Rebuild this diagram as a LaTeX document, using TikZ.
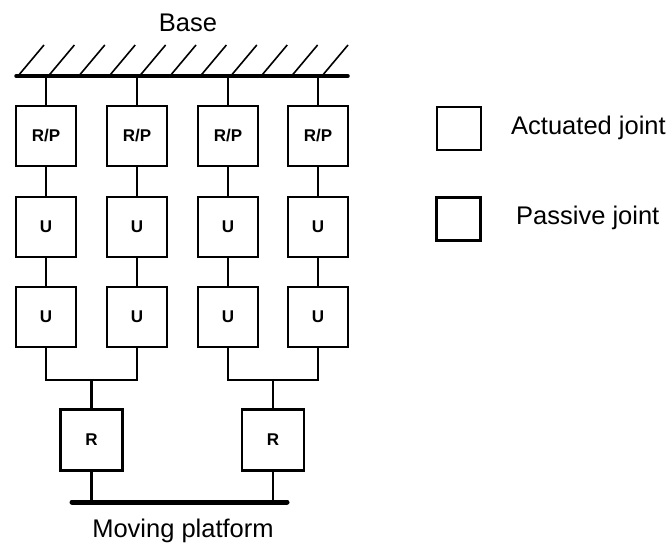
\documentclass[tikz,border=0pt]{standalone}
\usepackage{fontspec}
\setmainfont{Liberation Sans}
\begin{document}
\begin{tikzpicture}[x={(1pt,0pt)}, y={(0pt,-1pt)},
  joint/.style={draw, line width=2.4pt, minimum width=60pt, minimum height=60pt,
                inner sep=0pt, font=\fontsize{17}{17}\selectfont\bfseries},
  legbox/.style={draw, line width=2.2pt, minimum width=44pt, minimum height=43pt, inner sep=0pt},
  link/.style={line width=2.2pt},
  lbl/.style={font=\fontsize{25.5}{25.5}\selectfont, inner sep=0pt}]
\useasboundingbox (0,0) rectangle (668,546);

% ground (base) with hatching
\coordinate (baseL) at (16,76);
\coordinate (baseR) at (348,76);
\draw[line width=3.5pt, line cap=round] (baseL) -- (baseR);
\foreach \i in {0,...,10}
  \draw[line width=1.6pt] ({18+30.4*\i},76) -- ++(26,-31);
\node[lbl] (base) at (188,23) {Base};

% four serial legs
\foreach \c/\x in {1/46,2/137,3/228,4/318} {
  \node[joint] (rp\c) at (\x,136) {R/P};
  \node[joint] (ua\c) at (\x,227) {U};
  \node[joint] (ub\c) at (\x,317) {U};
  \draw[link] (rp\c.north) -- (rp\c.north |- baseL);
  \draw[link] (rp\c.south) -- (ua\c.north);
  \draw[link] (ua\c.south) -- (ub\c.north);
}

% pairs of legs joined at the revolute joints
\coordinate (j1) at (91.5,380);
\coordinate (j2) at (273,380);
\draw[link] (ub1.south) |- (j1) -| (ub2.south);
\draw[link] (ub3.south) |- (j2) -| (ub4.south);
\node[joint, minimum width=62pt, minimum height=61pt] (r1) at (91.5,440) {R};
\node[joint, minimum width=62pt, minimum height=61pt] (r2) at (273,440) {R};
\draw[link] (j1) -- (r1.north);
\draw[link] (j2) -- (r2.north);

% moving platform
\coordinate (platL) at (72,502);
\coordinate (platR) at (287,502);
\draw[line width=5pt, line cap=round] (platL) -- (platR);
\draw[link] (r1.south) -- (r1.south |- platL);
\draw[link] (r2.south) -- (r2.south |- platL);
\node[lbl] (plat) at (183,531) {Moving platform};

% legend
\node[legbox] (lega) at (459,128.5) {};
\node[legbox] (legp) at (458.5,219) {};
\node[lbl, anchor=west] (legat) at (511,128) {Actuated joint};
\node[lbl, anchor=west] (legpt) at (516,218) {Passive joint};
\end{tikzpicture}
\end{document}
